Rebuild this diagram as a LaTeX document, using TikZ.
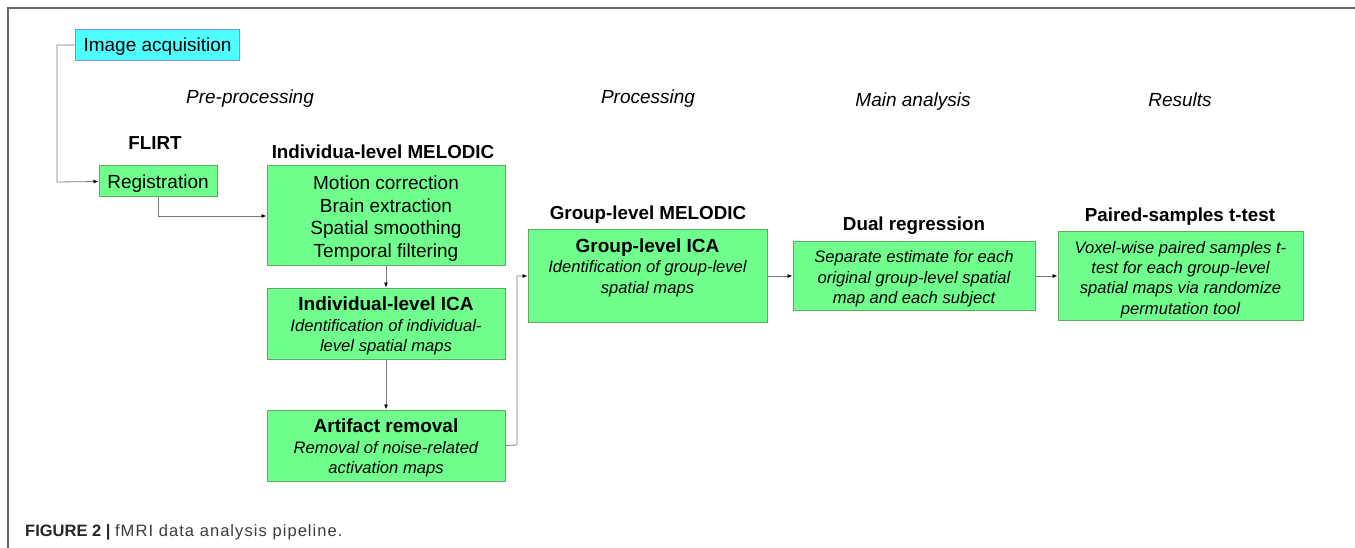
\documentclass[tikz,border=0pt]{standalone}
\usepackage{fontspec}
\setmainfont{Liberation Sans}
\usetikzlibrary{arrows.meta}
\definecolor{gfill}{RGB}{112,255,140}
\definecolor{gdraw}{RGB}{95,170,95}
\definecolor{cfill}{RGB}{77,255,255}
\definecolor{cdraw}{RGB}{110,150,240}
\definecolor{lgray}{RGB}{120,120,120}
\definecolor{capgray}{RGB}{60,60,60}
\tikzset{
  gbox/.style={draw=gdraw, line width=1pt, fill=gfill, inner sep=0pt},
  cbox/.style={draw=cdraw, line width=1pt, fill=cfill, inner sep=0pt},
  txt/.style={inner sep=0pt, align=center},
  big/.style={txt, font=\fontsize{19}{22.7}\selectfont},
  small/.style={txt, font=\fontsize{16.6}{20.3}\selectfont\itshape},
  head/.style={anchor=base, inner sep=0pt, font=\fontsize{19}{22}\selectfont\itshape},
  ttl/.style={anchor=base, inner sep=0pt, font=\fontsize{18.8}{22}\selectfont\bfseries},
  conn/.style={draw=lgray, line width=0.8pt},
  arr/.style={conn, -{Latex[length=5pt,width=4pt,color=black]}},
}
\newcommand{\bt}[1]{{\fontsize{19}{21}\selectfont\bfseries\upshape #1}}
\begin{document}
\begin{tikzpicture}[x=1pt,y=-1pt]
\useasboundingbox (0,0) rectangle (1355,548);
\draw[draw=gray!80!black, line width=1.3pt] (8,548) -- (8,8) -- (1355,8);

% boxes
\node[cbox, minimum width=164, minimum height=31] (acq) at (157.5,45) {};
\node[gbox, minimum width=118, minimum height=31] (reg) at (158,181.5) {};
\node[gbox, minimum width=238, minimum height=100] (mel) at (386,216) {};
\node[gbox, minimum width=238, minimum height=71] (ica) at (386,323.5) {};
\node[gbox, minimum width=238, minimum height=71] (art) at (386,445.5) {};
\node[gbox, minimum width=239, minimum height=92] (gica) at (647.5,276) {};
\node[gbox, minimum width=242, minimum height=68] (dual) at (914,276) {};
\node[gbox, minimum width=245, minimum height=88] (pair) at (1180.5,276) {};

% box texts
\node[big] (acqt) at (157.5,47) {Image acquisition};
\node[big] (regt) at (158,183.5) {Registration};
\node[big] (melx) at (386,218.5) {Motion correction\\Brain extraction\\Spatial smoothing\\Temporal filtering};
\node[small] (icat) at (386,326) {\bt{Individual-level ICA}\\Identification of individual-\\level spatial maps};
\node[small] (artt) at (386,448) {\bt{Artifact removal}\\Removal of noise-related\\activation maps};
\node[small, anchor=north] (gicat) at (647.5,238.5) {\bt{Group-level ICA}\\Identification of group-level\\spatial maps};
\node[small] (dualx) at (914,279) {Separate estimate for each\\original group-level spatial\\map and each subject};
\node[small] (pairx) at (1180.5,279.5) {Voxel-wise paired samples t-\\test for each group-level\\spatial maps via randomize\\permutation tool};

% labels
\node[head] (pre) at (250,103.5) {Pre-processing};
\node[head] (proc) at (648,103.5) {Processing};
\node[head] (main) at (913,106.5) {Main analysis};
\node[head] (res) at (1180,106.5) {Results};
\node[ttl] (flirt) at (155,150) {FLIRT};
\node[ttl] (melt) at (383,158.5) {Individua-level MELODIC};
\node[ttl] (gmelt) at (648,220) {Group-level MELODIC};
\node[ttl] (dualt) at (914,230.5) {Dual regression};
\node[ttl] (pairt) at (1180,221.5) {Paired-samples t-test};

% caption
\node[anchor=base west, inner sep=0pt, font=\fontsize{16.5}{18}\selectfont, text=capgray] (cap) at (25,536) {{\bfseries\color{black!85}FIGURE 2 |} {\addfontfeature{LetterSpace=6.5}fMRI data analysis pipeline.}};

% connectors
\coordinate (c1) at (57,45);
\coordinate (c2) at (57,182);
\draw[arr] (acq.west) -- (c1) -- (c2) -- (reg.west);
\draw[arr] (reg.south) |- (mel.west);
\draw[arr] (mel.south) -- (ica.north);
\draw[arr] (ica.south) -- (art.north);
\coordinate (c3) at (517,445);
\coordinate (c4) at (517,276);
\draw[arr] (art.east) -- (c3) -- (c4) -- (gica.west);
\draw[arr] (gica.east) -- (dual.west);
\draw[arr] (dual.east) -- (pair.west);
\end{tikzpicture}
\end{document}
